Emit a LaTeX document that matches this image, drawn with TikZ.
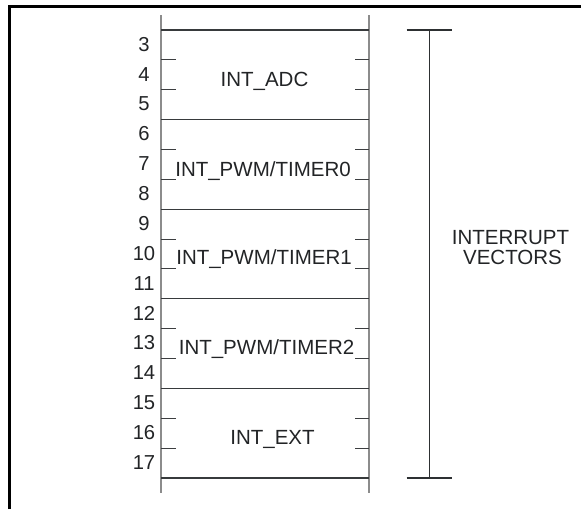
\documentclass[tikz,border=0pt]{standalone}
\usepackage{fontspec}
\setmainfont{Liberation Sans}
\begin{document}
\begin{tikzpicture}[x=1pt,y=-1pt,
  frame/.style={line width=2.6pt,black},
  hline/.style={line width=1.1pt,draw={rgb,255:red,55;green,58;blue,60}},
  vline/.style={line width=1.2pt,draw={rgb,255:red,140;green,140;blue,140}},
  tick/.style={line width=1.1pt,draw={rgb,255:red,60;green,62;blue,64}},
  brk/.style={line width=1.2pt,draw={rgb,255:red,45;green,48;blue,50}},
  lbl/.style={inner sep=0pt,anchor=base,text={rgb,255:red,34;green,36;blue,38},font=\fontsize{20.5}{24}\selectfont},
  num/.style={inner sep=0pt,anchor=base,text={rgb,255:red,34;green,36;blue,38},font=\fontsize{20.2}{22}\selectfont}]
\useasboundingbox (0,0) rectangle (581,509);
% outer frame (top and left only)
\draw[frame] (9.5,509) -- (9.5,6.2) -- (581,6.2);
% column verticals
\coordinate (cl1) at (161,15); \coordinate (cl2) at (161,493);
\coordinate (cr1) at (369,15); \coordinate (cr2) at (369,493);
\draw[vline] (cl1) -- (cl2);
\draw[vline] (cr1) -- (cr2);
% block separators
\foreach \k in {0,...,5}{
  \draw[hline] (161,{30+89.6*\k}) -- (369,{30+89.6*\k});
}
% ticks
\foreach \k in {0,...,4}{
  \foreach \t in {1,2}{
    \draw[tick] (161,{30+89.6*\k+29.87*\t}) -- (176,{30+89.6*\k+29.87*\t});
    \draw[tick] (355,{30+89.6*\k+29.87*\t}) -- (369,{30+89.6*\k+29.87*\t});
  }
}
% row numbers
\foreach \n in {3,...,17}{
  \node[num] (n\n) at (144,{30+29.87*(\n-3)+14.93+6.3}) {\n};
}
% block labels
\node[lbl] (adc) at (264.5,86) {INT\_ADC};
\node[lbl] (t0) at (263,176) {INT\_PWM/TIMER0};
\node[lbl] (t1) at (264,264.5) {INT\_PWM/TIMER1};
\node[lbl] (t2) at (266.5,354.5) {INT\_PWM/TIMER2};
\node[lbl] (ext) at (272.5,444) {INT\_EXT};
% bracket
\coordinate (b1) at (429.7,30); \coordinate (b2) at (429.7,478);
\draw[brk] (b1) -- (b2);
\draw[brk] (406.7,30) -- (452.3,30);
\draw[brk] (406.7,478) -- (452.3,478);
\node[lbl] (iv1) at (510.5,244) {INTERRUPT};
\node[lbl] (iv2) at (512.5,264.3) {VECTORS};
\end{tikzpicture}
\end{document}
